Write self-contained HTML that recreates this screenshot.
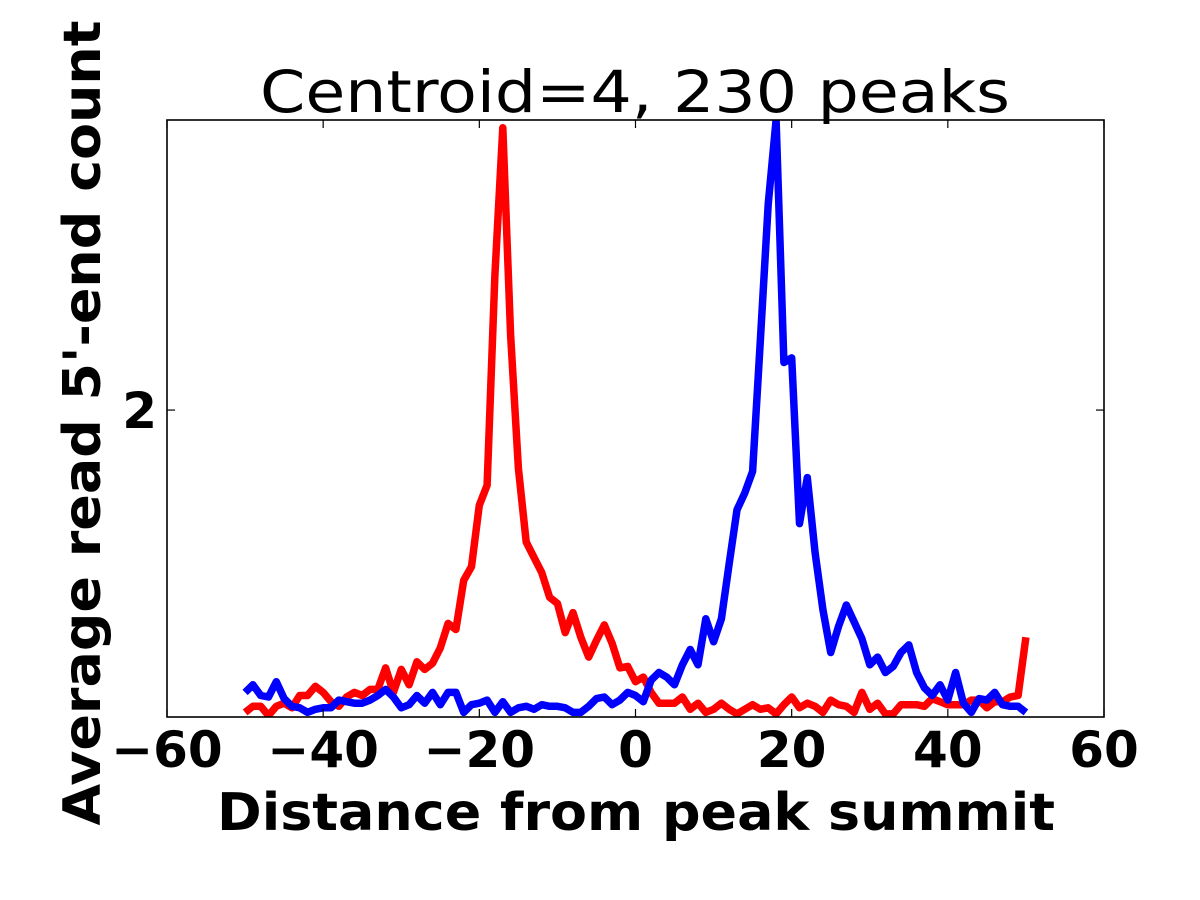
<!DOCTYPE html>
<html><head><meta charset="utf-8"><style>
html,body{margin:0;padding:0;background:#fff;}
svg{display:block;}
text{font-family:"DejaVu Sans","Liberation Sans",sans-serif;}
</style></head><body>
<svg id="chart" width="1200" height="900" viewBox="0 0 1200 900">
<defs><clipPath id="clip"><rect x="167" y="120" width="937" height="597"/></clipPath></defs>
<rect x="0" y="0" width="1200" height="900" fill="#fff"/>
<text x="635" y="112" font-size="58" text-anchor="middle" textLength="750" lengthAdjust="spacingAndGlyphs">Centroid=4, 230 peaks</text>
<g id="series" clip-path="url(#clip)"></g>
<g id="ticks"></g>
<rect x="167" y="120" width="937" height="597" fill="none" stroke="#000" stroke-width="1.6"/>
<text x="636" y="830" font-size="52" font-weight="bold" text-anchor="middle" textLength="838" lengthAdjust="spacingAndGlyphs">Distance from peak summit</text>
<text transform="translate(100,423) rotate(-90)" font-size="52" font-weight="bold" text-anchor="middle" textLength="805" lengthAdjust="spacingAndGlyphs">Average read 5'-end count</text>
</svg>
<script>
const xTicks = [-60,-40,-20,0,20,40,60];
const xTickLabels = ["\u221260","\u221240","\u221220","0","20","40","60"];
const yTicks = [2];
const yTickLabels = ["2"];
const positions = [];
for (let i = -50; i <= 50; i++) positions.push(i);
const redValues = [0.03,0.07,0.07,0.01,0.07,0.09,0.06,0.14,0.14,0.20,0.16,0.10,0.07,0.13,0.16,0.14,0.18,0.18,0.32,0.16,0.31,0.21,0.36,0.31,0.35,0.45,0.61,0.57,0.89,0.98,1.38,1.51,2.88,3.84,2.49,1.62,1.14,1.04,0.94,0.78,0.74,0.55,0.68,0.52,0.39,0.50,0.60,0.48,0.32,0.33,0.23,
0.26,0.16,0.09,0.09,0.09,0.13,0.05,0.09,0.03,0.05,0.09,0.05,0.02,0.05,0.08,0.05,0.06,0.02,0.08,0.13,0.06,0.09,0.07,0.03,0.11,0.08,0.07,0.03,0.16,0.05,0.09,0.02,0.02,0.08,0.08,0.08,0.07,0.12,0.10,0.08,0.08,0.08,0.11,0.11,0.06,0.10,0.10,0.13,0.14,0.52];
const blueValues = [0.16,0.21,0.14,0.13,0.23,0.12,0.07,0.06,0.03,0.05,
0.06,0.06,0.11,0.10,0.09,0.09,0.11,0.14,0.18,0.13,
0.06,0.08,0.14,0.09,0.16,0.08,0.16,0.16,0.03,0.08,
0.09,0.11,0.03,0.10,0.03,0.06,0.07,0.05,0.08,0.07,
0.07,0.06,0.03,0.03,0.07,0.12,0.13,0.08,0.11,0.16,
0.14,0.10,0.24,0.29,0.26,0.21,0.34,0.44,0.34,0.64,
0.49,0.64,1.00,1.35,1.46,1.60,2.46,3.34,3.89,2.31,
2.34,1.26,1.56,1.07,0.70,0.42,0.59,0.73,0.62,0.51,
0.34,0.39,0.29,0.33,0.42,0.47,0.29,0.19,0.14,0.21,
0.11,0.29,0.09,0.03,0.12,0.11,0.16,0.08,0.07,0.07,0.03];

const X0=167, X1=1104, Y0=717, Y1=120;
const xMin=-60, xMax=60, yMin=0, yMax=3.89;
function sx(v){return X0+(v-xMin)/(xMax-xMin)*(X1-X0);}
function sy(v){return Y0-(v-yMin)/(yMax-yMin)*(Y0-Y1);}
const NS="http://www.w3.org/2000/svg";
const series=document.getElementById('series');
function drawLine(vals,color,name){
  const p=document.createElementNS(NS,'polyline');
  p.setAttribute('points',vals.map((v,i)=>sx(positions[i]).toFixed(1)+','+sy(v).toFixed(1)).join(' '));
  p.setAttribute('fill','none');p.setAttribute('stroke',color);p.setAttribute('stroke-width','7.5');
  p.setAttribute('stroke-linejoin','round');
  
  
  series.appendChild(p);
}
drawLine(redValues,'#ff0000','red-series-line');
drawLine(blueValues,'#0000ff','blue-series-line');
const ticks=document.getElementById('ticks');
xTicks.forEach((t,i)=>{
  const x=sx(t);
  [[Y0,Y0-8],[Y1,Y1+8]].forEach(([a,b])=>{
    const l=document.createElementNS(NS,'line');
    l.setAttribute('x1',x);l.setAttribute('x2',x);l.setAttribute('y1',a);l.setAttribute('y2',b);
    l.setAttribute('stroke','#000');l.setAttribute('stroke-width','1.2');
    
    
    ticks.appendChild(l);
  });
  const tx=document.createElementNS(NS,'text');
  tx.setAttribute('x',x);tx.setAttribute('y',767);tx.setAttribute('font-size','50');
  tx.setAttribute('font-weight','bold');tx.setAttribute('text-anchor','middle');
  tx.textContent=xTickLabels[i];
  
  
  ticks.appendChild(tx);
});
yTicks.forEach((t,i)=>{
  const y=sy(t);
  [[X0,X0+8],[X1,X1-8]].forEach(([a,b])=>{
    const l=document.createElementNS(NS,'line');
    l.setAttribute('x1',a);l.setAttribute('x2',b);l.setAttribute('y1',y);l.setAttribute('y2',y);
    l.setAttribute('stroke','#000');l.setAttribute('stroke-width','1.2');
    
    
    ticks.appendChild(l);
  });
  const tx=document.createElementNS(NS,'text');
  tx.setAttribute('x',157);tx.setAttribute('y',y+18);tx.setAttribute('font-size','50');
  tx.setAttribute('font-weight','bold');tx.setAttribute('text-anchor','end');
  tx.textContent=yTickLabels[i];
  
  
  ticks.appendChild(tx);
});
</script>
</body></html>
